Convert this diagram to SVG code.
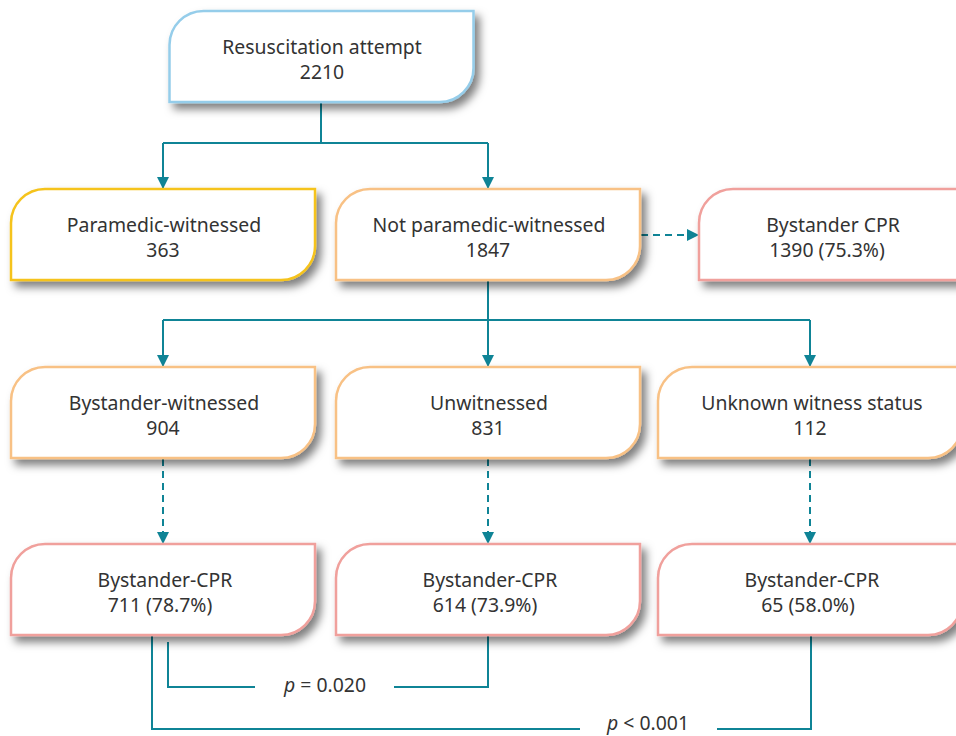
<svg xmlns="http://www.w3.org/2000/svg" width="956" height="736" viewBox="0 0 956 736">
<defs>
<filter id="sh" x="-10%" y="-20%" width="130%" height="150%">
<feDropShadow dx="5" dy="6" stdDeviation="4" flood-color="#000" flood-opacity="0.5"/>
</filter>
<marker id="ah" markerWidth="12" markerHeight="12" refX="12" refY="6" orient="auto" markerUnits="userSpaceOnUse">
<path d="M0,0 L12,6 L0,12 Z" fill="#0f8496"/>
</marker>
<path id="box" d="M0,91 L0,34 A34,34 0 0 1 34,0 L304,0 L304,57 A34,34 0 0 1 270,91 Z"/>
</defs>
<style>
.b{fill:#fff;stroke-width:2.5;filter:url(#sh)}
.blue{stroke:#95cdea}
.yel{stroke:#f5c31c}
.org{stroke:#f8c185}
.pink{stroke:#f0a09c}
text{font-family:"Noto Sans","Open Sans",sans-serif;font-size:19.4px;fill:#333;text-anchor:middle}
.c{fill:none;stroke:#0f8496;stroke-width:2}
.d{stroke-dasharray:7 5}
.p{font-style:italic}
</style>
<rect width="956" height="736" fill="#fff"/>
<g id="connectors">
<path class="c" d="M321,101 V143 M163,143 H488 M163,143 V189" marker-end="url(#ah)"/>
<path class="c" d="M488,143 V189" marker-end="url(#ah)"/>
<path class="c d" d="M641,235 H699" marker-end="url(#ah)"/>
<path class="c" d="M488,280 V320 M163,320 H810 M163,320 V367" marker-end="url(#ah)"/>
<path class="c" d="M488,320 V367" marker-end="url(#ah)"/>
<path class="c" d="M810,320 V367" marker-end="url(#ah)"/>
<path class="c d" d="M163,459 V544" marker-end="url(#ah)"/>
<path class="c d" d="M488,459 V544" marker-end="url(#ah)"/>
<path class="c d" d="M810,459 V544" marker-end="url(#ah)"/>
<path class="c" d="M168,642 V687 H255 M394,687 H488 V636"/>
<path class="c" d="M152,636 V729 H580 M717,729 H811 V636"/>
<text x="325" y="692"><tspan class="p">p</tspan> = 0.020</text>
<text x="648" y="730"><tspan class="p">p</tspan> &lt; 0.001</text>
</g>
<g id="n-resus"><use href="#box" x="169.5" y="11" class="b blue"/><text x="322" y="54">Resuscitation attempt</text><text x="322" y="79">2210</text></g>
<g id="n-para"><use href="#box" x="11" y="189" class="b yel"/><text x="164" y="232">Paramedic-witnessed</text><text x="163" y="257">363</text></g>
<g id="n-notpara"><use href="#box" x="336" y="189" class="b org"/><text x="489" y="232">Not paramedic-witnessed</text><text x="488" y="257">1847</text></g>
<g id="n-bcpr"><use href="#box" x="699" y="189" class="b pink"/><text x="833" y="232">Bystander CPR</text><text x="827" y="257">1390 (75.3%)</text></g>
<g id="n-bw"><use href="#box" x="11" y="367" class="b org"/><text x="164" y="410">Bystander-witnessed</text><text x="163" y="435">904</text></g>
<g id="n-unw"><use href="#box" x="336" y="367" class="b org"/><text x="489" y="410">Unwitnessed</text><text x="488" y="435">831</text></g>
<g id="n-unk"><use href="#box" x="658" y="367" class="b org"/><text x="812" y="410">Unknown witness status</text><text x="810" y="435">112</text></g>
<g id="n-c1"><use href="#box" x="11" y="544" class="b pink"/><text x="165" y="587">Bystander-CPR</text><text x="160" y="612">711 (78.7%)</text></g>
<g id="n-c2"><use href="#box" x="336" y="544" class="b pink"/><text x="490" y="587">Bystander-CPR</text><text x="485" y="612">614 (73.9%)</text></g>
<g id="n-c3"><use href="#box" x="658" y="544" class="b pink"/><text x="812" y="587">Bystander-CPR</text><text x="808" y="612">65 (58.0%)</text></g>
</svg>
